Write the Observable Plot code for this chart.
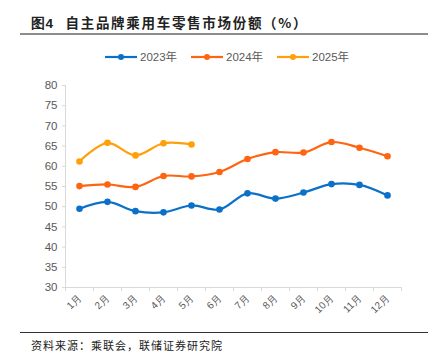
<!DOCTYPE html>
<html>
<head>
<meta charset="utf-8">
<script src="https://cdn.jsdelivr.net/npm/d3@7"></script>
<script src="https://cdn.jsdelivr.net/npm/@observablehq/plot@0.6"></script>
<style>
  body { margin: 0; background: #fff; font-family: "Liberation Sans", Arial, "Noto Sans CJK SC", sans-serif; }
  #wrap { position: relative; width: 440px; height: 364px; overflow: hidden; }
  #title { position: absolute; left: 31px; top: 12px; font-size: 13.5px; font-weight: bold; color: #222; font-family: "Noto Sans CJK SC", sans-serif; white-space: nowrap; letter-spacing: 1.7px; }
  #title .num { font-family: "Liberation Sans", Arial, sans-serif; margin-right: 12px; letter-spacing: 0.5px; }
  #topline { position: absolute; left: 20px; top: 33px; width: 408px; height: 2px; background: #8c8c8c; }
  #botline { position: absolute; left: 20px; top: 332px; width: 408px; height: 1px; background: #333; }
  #source { position: absolute; left: 31px; top: 337px; font-size: 11px; color: #222; font-family: "Noto Sans CJK SC", sans-serif; white-space: nowrap; letter-spacing: 1px; }
  #legend { position: absolute; left: 0; top: 48px; width: 440px; }
  #chart { position: absolute; left: 0; top: 0; }
</style>
</head>
<body>
<div id="wrap">
  <div id="chart"></div>
  <div id="title"><span class="num">图4</span>自主品牌乘用车零售市场份额（%）</div>
  <div id="topline"></div>
  <div id="legend"></div>
  <div id="botline"></div>
  <div id="source">资料来源：乘联会，联储证券研究院</div>
</div>
<script>
const months = ["1月","2月","3月","4月","5月","6月","7月","8月","9月","10月","11月","12月"];
const seriesNames = ["2023年","2024年","2025年"];
const seriesColors = ["#0a70c8","#ff6410","#ffa00a"];
const s2023 = [49.5, 51.2, 48.9, 48.6, 50.3, 49.3, 53.3, 52.0, 53.5, 55.6, 55.4, 52.8];
const s2024 = [55.1, 55.5, 54.9, 57.6, 57.5, 58.6, 61.8, 63.5, 63.4, 66.0, 64.6, 62.5];
const s2025 = [61.2, 65.8, 62.7, 65.7, 65.4];
const yTicks = [30, 35, 40, 45, 50, 55, 60, 65, 70, 75, 80];

const data = [];
[s2023, s2024, s2025].forEach((arr, si) => {
  arr.forEach((v, i) => data.push({ m: i + 1, v, s: seriesNames[si] }));
});
const boundaries = d3.range(0, months.length + 1).map(i => i + 0.5);

const plot = Plot.plot({
  width: 440,
  height: 364,
  marginTop: 85,
  marginBottom: 77,
  marginLeft: 65,
  marginRight: 39,
  style: { fontFamily: "Liberation Sans, Arial, sans-serif", background: "transparent" },
  x: { type: "linear", domain: [0.5, months.length + 0.5], label: null },
  y: { domain: [30, 80], label: null },
  color: { domain: seriesNames, range: seriesColors },
  marks: [
    Plot.ruleX([0.5], { stroke: "#d9d9d9", strokeWidth: 1 }),
    Plot.ruleY([30], { stroke: "#d9d9d9", strokeWidth: 1 }),
    Plot.axisX(boundaries, { tickSize: 4, tickFormat: () => "", stroke: "#d9d9d9", anchor: "bottom", label: null }),
    Plot.axisX(d3.range(1, months.length + 1), {
      tickSize: 0, tickPadding: 9, tickRotate: -45,
      tickFormat: d => months[d - 1], fill: "#595959", fontSize: 10, anchor: "bottom", label: null
    }),
    Plot.axisY(yTicks, { tickSize: 3, tickPadding: 5, stroke: "#d9d9d9", fill: "#595959", fontSize: 11.5, label: null }),
    Plot.line(data, { x: "m", y: "v", stroke: "s", z: "s", strokeWidth: 2.2, curve: "catmull-rom" }),
    Plot.dot(data, { x: "m", y: "v", fill: "s", r: 3.3 })
  ]
});
document.getElementById("chart").appendChild(plot);

// Legend
const lg = d3.select("#legend").append("svg").attr("width", 440).attr("height", 18);
const lx = [105, 191, 277];
seriesNames.forEach((name, i) => {
  const g = lg.append("g").attr("transform", `translate(${lx[i]},9)`);
  g.append("line").attr("x1", 0).attr("x2", 32).attr("y1", 0).attr("y2", 0).attr("stroke", seriesColors[i]).attr("stroke-width", 2.2);
  g.append("circle").attr("cx", 16).attr("cy", 0).attr("r", 3).attr("fill", seriesColors[i]);
  g.append("text").attr("x", 35).attr("y", 4).attr("font-size", 11.5).attr("fill", "#595959")
    .attr("font-family", "Liberation Sans, Arial, Noto Sans CJK SC, sans-serif").text(name);
});
</script>
</body>
</html>
